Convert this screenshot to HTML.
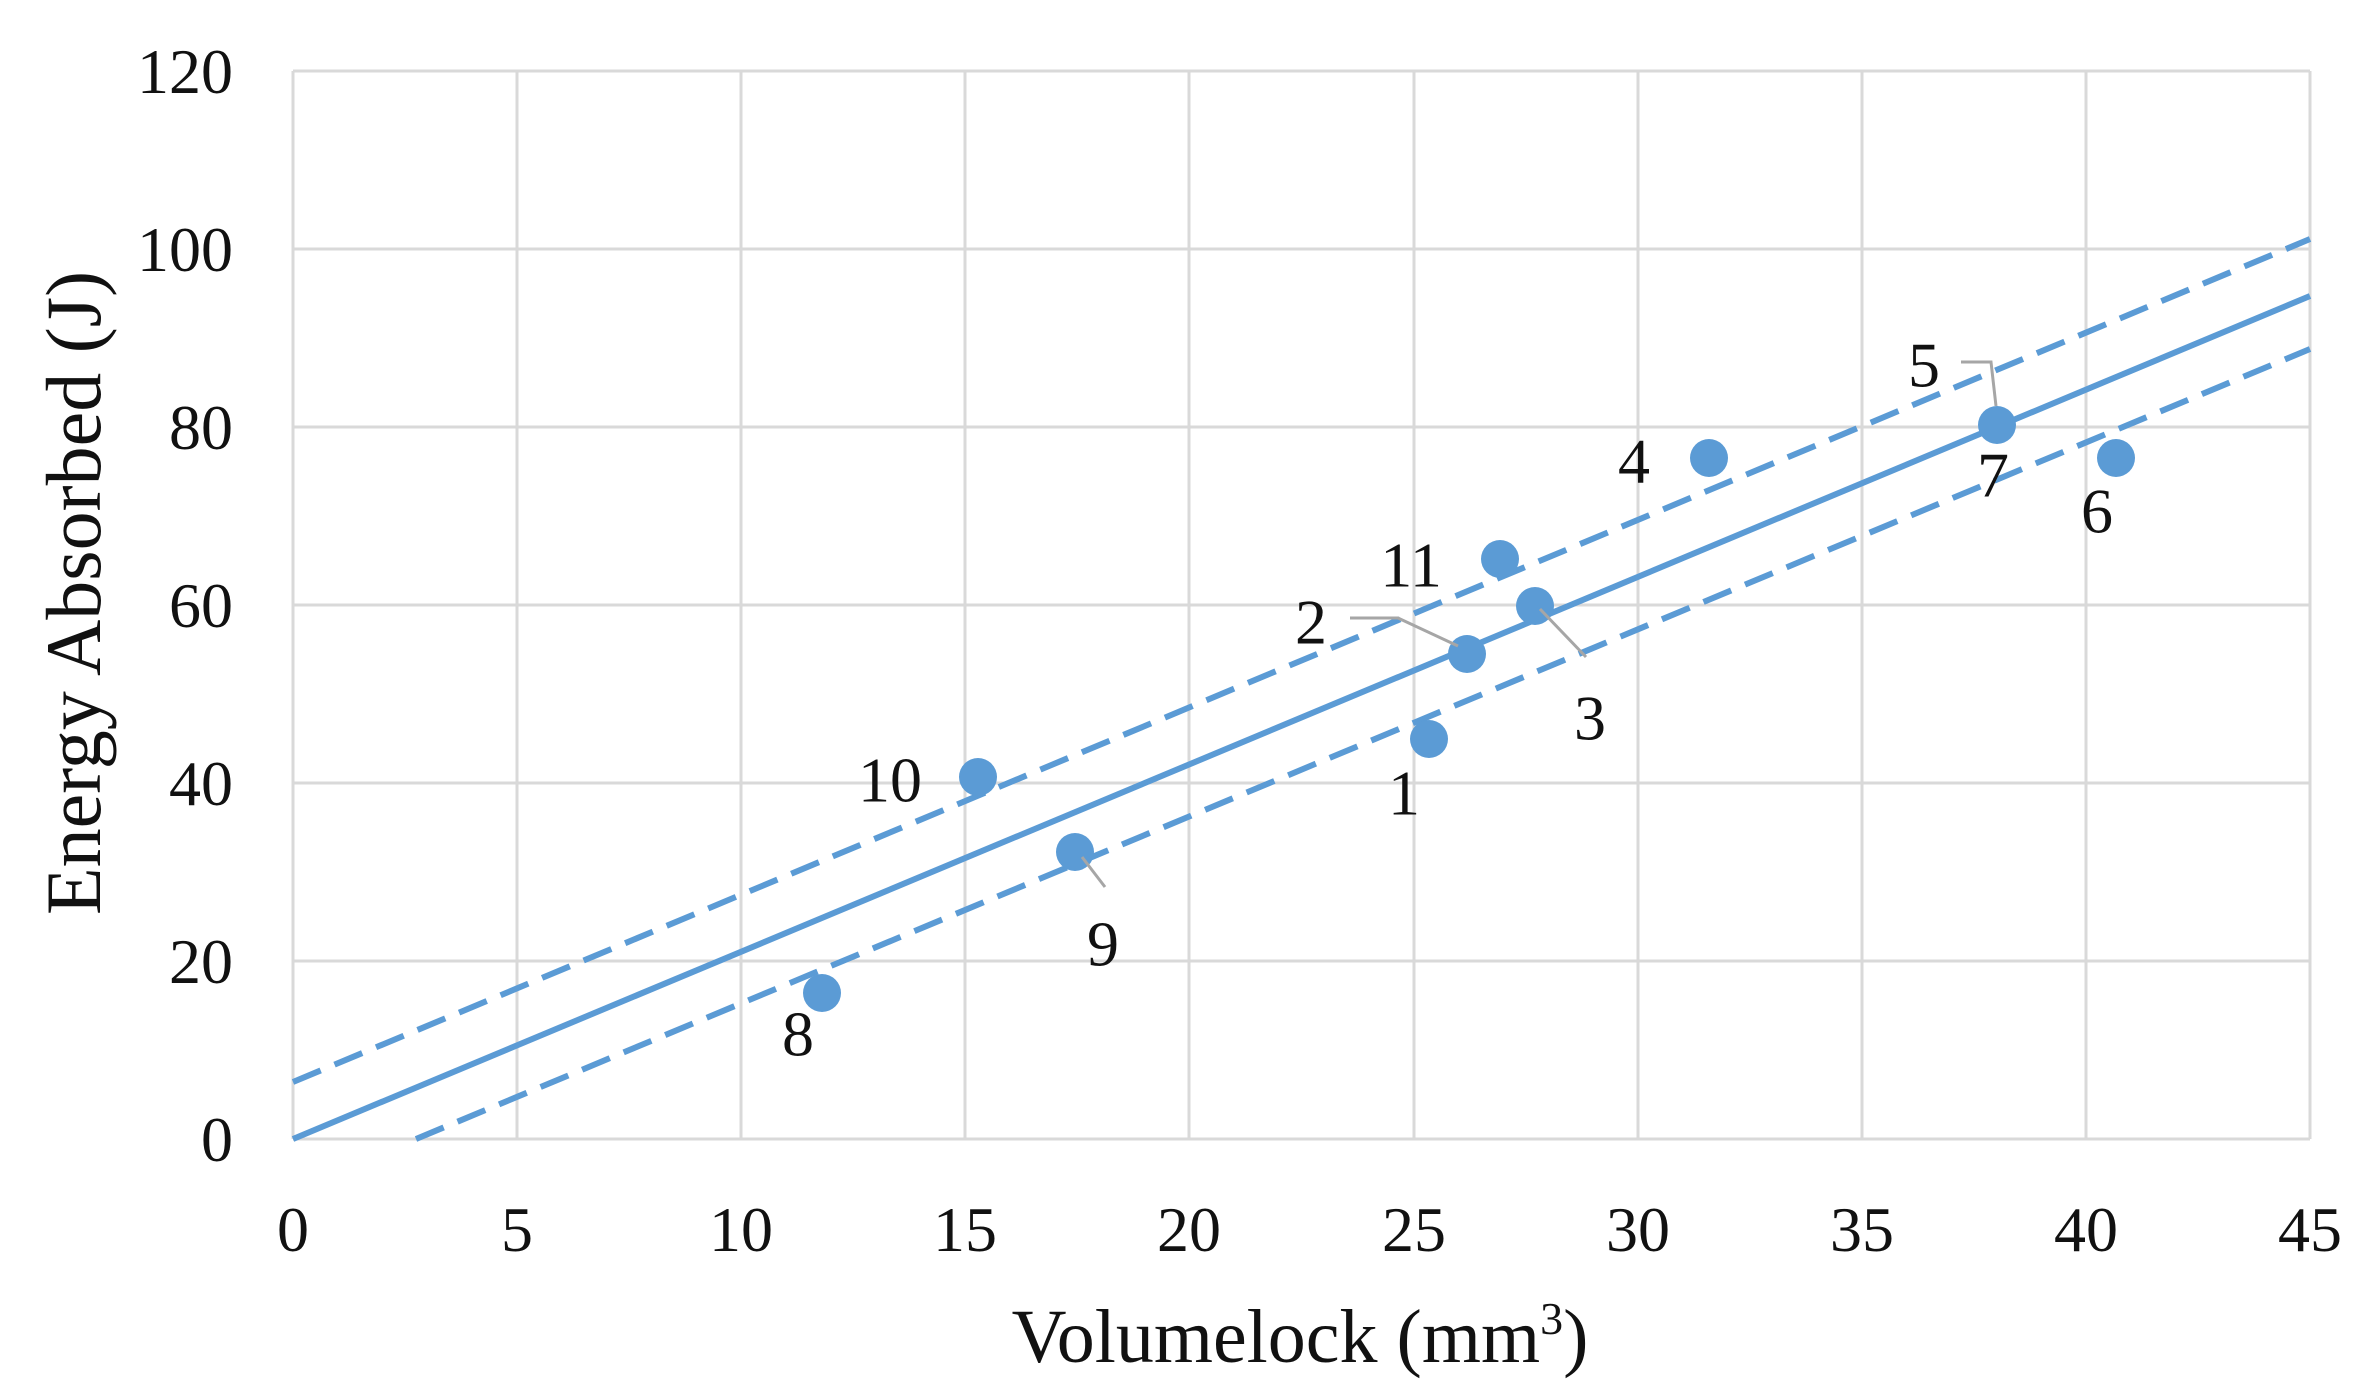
<!DOCTYPE html>
<html><head><meta charset="utf-8"><style>
html,body{margin:0;padding:0;background:#fff;}
svg{display:block;}
text{font-family:"Liberation Serif",serif;fill:#111;}
</style></head><body>
<svg width="2357" height="1397" viewBox="0 0 2357 1397" xmlns="http://www.w3.org/2000/svg">
<rect width="2357" height="1397" fill="#fff"/>
<g stroke="#d9d9d9" stroke-width="3">
<line x1="293" y1="71" x2="2310" y2="71"/>
<line x1="293" y1="249" x2="2310" y2="249"/>
<line x1="293" y1="427" x2="2310" y2="427"/>
<line x1="293" y1="605" x2="2310" y2="605"/>
<line x1="293" y1="783" x2="2310" y2="783"/>
<line x1="293" y1="961" x2="2310" y2="961"/>
<line x1="293" y1="1139" x2="2310" y2="1139"/>
<line x1="293" y1="71" x2="293" y2="1139"/>
<line x1="517" y1="71" x2="517" y2="1139"/>
<line x1="741" y1="71" x2="741" y2="1139"/>
<line x1="965" y1="71" x2="965" y2="1139"/>
<line x1="1189" y1="71" x2="1189" y2="1139"/>
<line x1="1414" y1="71" x2="1414" y2="1139"/>
<line x1="1638" y1="71" x2="1638" y2="1139"/>
<line x1="1862" y1="71" x2="1862" y2="1139"/>
<line x1="2086" y1="71" x2="2086" y2="1139"/>
<line x1="2310" y1="71" x2="2310" y2="1139"/>
</g>
<g font-size="64" text-anchor="end">
<text x="233" y="93">120</text>
<text x="233" y="271">100</text>
<text x="233" y="449">80</text>
<text x="233" y="627">60</text>
<text x="233" y="805">40</text>
<text x="233" y="983">20</text>
<text x="233" y="1161">0</text>
</g>
<g font-size="64" text-anchor="middle">
<text x="293" y="1251">0</text>
<text x="517" y="1251">5</text>
<text x="741" y="1251">10</text>
<text x="965" y="1251">15</text>
<text x="1189" y="1251">20</text>
<text x="1414" y="1251">25</text>
<text x="1638" y="1251">30</text>
<text x="1862" y="1251">35</text>
<text x="2086" y="1251">40</text>
<text x="2310" y="1251">45</text>
</g>
<text x="1300" y="1362" font-size="76" text-anchor="middle">Volumelock (mm<tspan font-size="46" dy="-28">3</tspan><tspan dy="28">)</tspan></text>
<text transform="translate(100,593) rotate(-90)" font-size="78" text-anchor="middle">Energy Absorbed (J)</text>
<g stroke="#5b9bd5" stroke-width="6" fill="none">
<line x1="293" y1="1139" x2="2310" y2="296"/>
<line x1="293" y1="1082" x2="2310" y2="239" stroke-dasharray="30,15"/>
<line x1="416" y1="1139" x2="2310" y2="349" stroke-dasharray="30,15"/>
</g>
<g fill="#5b9bd5">
<circle cx="1429" cy="739" r="19"/>
<circle cx="1467" cy="654" r="19"/>
<circle cx="1535" cy="606" r="19"/>
<circle cx="1709" cy="458" r="19"/>
<circle cx="1997" cy="425" r="19"/>
<circle cx="2116" cy="458" r="19"/>
<circle cx="822" cy="993" r="19"/>
<circle cx="1075" cy="852" r="19"/>
<circle cx="978" cy="777" r="19"/>
<circle cx="1500" cy="559" r="19"/>
</g>
<g stroke="#a6a6a6" stroke-width="3" fill="none">
<polyline points="1350,618 1398,618 1458,646"/>
<polyline points="1540,609 1586,657"/>
<polyline points="1961,362 1991,362 1996,406"/>
<polyline points="1082,857 1105,887"/>
</g>
<g font-size="64" text-anchor="middle" dominant-baseline="central">
<text x="1404" y="793">1</text>
<text x="1311" y="622">2</text>
<text x="1590" y="718">3</text>
<text x="1634" y="461">4</text>
<text x="1924" y="365">5</text>
<text x="2097" y="511">6</text>
<text x="1993" y="475">7</text>
<text x="798" y="1034">8</text>
<text x="1103" y="944">9</text>
<text x="890" y="780">10</text>
<text x="1411" y="565">11</text>
</g>
</svg>
</body></html>
